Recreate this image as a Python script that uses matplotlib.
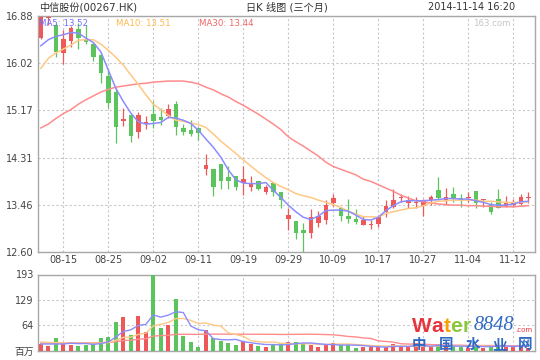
import matplotlib
matplotlib.use("Agg")
import matplotlib.pyplot as plt
import numpy as np

plt.rcParams["font.family"] = ["DejaVu Sans", "Noto Sans CJK SC"]

# trading days shown on the chart (2014)
dates = ["08-12", "08-13", "08-14", "08-15", "08-18", "08-19", "08-20", "08-21", "08-22", "08-25",
         "08-26", "08-27", "08-28", "08-29", "09-01", "09-02", "09-03", "09-04", "09-05", "09-08",
         "09-10", "09-11", "09-12", "09-15", "09-16", "09-17", "09-18", "09-19", "09-22", "09-23",
         "09-24", "09-25", "09-26", "09-29", "09-30", "10-03", "10-06", "10-07", "10-08", "10-09",
         "10-10", "10-13", "10-14", "10-15", "10-16", "10-17", "10-20", "10-21", "10-22", "10-23",
         "10-24", "10-27", "10-28", "10-29", "10-30", "10-31", "11-03", "11-04", "11-05", "11-06",
         "11-07", "11-10", "11-11", "11-12", "11-13", "11-14"]

opens = [16.48, 16.84, 16.72, 16.21, 16.43, 16.64, 16.46, 16.37, 16.17, 15.79,
         15.51, 14.97, 15.09, 14.78, 14.92, 15.10, 15.05, 15.07, 15.28, 14.85,
         14.81, 14.85, 14.11, 14.10, 14.20, 13.96, 13.98, 13.86, 13.78, 13.89,
         13.69, 13.86, 13.69, 13.20, 13.17, 13.00, 12.95, 13.12, 13.18, 13.49,
         13.39, 13.25, 13.20, 13.09, 13.09, 13.11, 13.33, 13.41, 13.58, 13.49,
         13.48, 13.44, 13.54, 13.72, 13.54, 13.65, 13.58, 13.58, 13.71, 13.54,
         13.45, 13.57, 13.42, 13.46, 13.47, 13.58]
highs = [16.88, 16.88, 16.75, 16.63, 16.69, 16.76, 16.72, 16.41, 16.21, 15.90,
         15.57, 15.22, 15.10, 15.14, 15.07, 15.34, 15.21, 15.28, 15.34, 14.92,
         14.99, 14.87, 14.38, 14.10, 14.20, 14.16, 13.98, 14.16, 13.98, 13.89,
         13.82, 13.86, 13.69, 13.39, 13.17, 13.12, 13.38, 13.34, 13.54, 13.65,
         13.39, 13.57, 13.38, 13.26, 13.18, 13.24, 13.54, 13.74, 13.65, 13.62,
         13.60, 13.57, 13.63, 13.96, 13.76, 13.77, 13.65, 13.69, 13.71, 13.57,
         13.50, 13.74, 13.62, 13.57, 13.65, 13.68]
lows = [16.46, 16.72, 16.13, 16.01, 16.32, 16.29, 16.38, 16.07, 15.66, 15.21,
        14.58, 14.89, 14.60, 14.66, 14.83, 14.84, 14.90, 15.03, 14.72, 14.72,
        14.70, 14.64, 14.00, 13.62, 13.74, 13.74, 13.72, 13.63, 13.71, 13.72,
        13.65, 13.62, 13.40, 13.00, 12.84, 12.60, 12.86, 13.06, 13.10, 13.44,
        13.17, 13.13, 13.10, 13.09, 13.01, 13.06, 13.24, 13.39, 13.50, 13.39,
        13.40, 13.25, 13.45, 13.57, 13.45, 13.51, 13.42, 13.51, 13.39, 13.42,
        13.29, 13.39, 13.41, 13.41, 13.45, 13.48]
closes = [16.87, 16.87, 16.23, 16.46, 16.66, 16.49, 16.41, 16.13, 15.84, 15.31,
          14.86, 15.01, 14.71, 15.09, 14.96, 14.98, 14.99, 15.19, 14.87, 14.78,
          14.74, 14.76, 14.18, 13.78, 13.89, 13.89, 13.77, 13.92, 13.86, 13.74,
          13.78, 13.69, 13.54, 13.27, 12.95, 12.95, 13.23, 13.25, 13.45, 13.58,
          13.26, 13.20, 13.15, 13.18, 13.10, 13.24, 13.44, 13.54, 13.60, 13.54,
          13.51, 13.52, 13.60, 13.58, 13.59, 13.56, 13.55, 13.59, 13.48, 13.56,
          13.33, 13.40, 13.51, 13.50, 13.59, 13.60]

ma5 = [16.34, 16.45, 16.51, 16.54, 16.58, 16.57, 16.48, 16.40, 16.23, 15.90,
       15.57, 15.33, 15.12, 14.96, 14.92, 14.93, 14.95, 15.04, 15.03, 14.99,
       14.93, 14.81, 14.65, 14.50, 14.32, 14.09, 13.91, 13.85, 13.84, 13.84,
       13.86, 13.72, 13.59, 13.45, 13.33, 13.23, 13.19, 13.25, 13.35, 13.36,
       13.36, 13.34, 13.27, 13.19, 13.18, 13.23, 13.35, 13.44, 13.51, 13.53,
       13.53, 13.53, 13.54, 13.55, 13.57, 13.57, 13.56, 13.56, 13.53, 13.50,
       13.46, 13.45, 13.45, 13.47, 13.51, 13.52]
ma10 = [15.93, 16.11, 16.21, 16.28, 16.35, 16.44, 16.45, 16.45, 16.37, 16.26,
        16.13, 15.99, 15.81, 15.64, 15.45, 15.28, 15.18, 15.08, 14.99, 14.97,
        14.94, 14.91, 14.86, 14.74, 14.61, 14.50, 14.39, 14.27, 14.16, 14.05,
        13.95, 13.86, 13.79, 13.73, 13.66, 13.62, 13.59, 13.54, 13.50, 13.46,
        13.41, 13.34, 13.29, 13.24, 13.24, 13.23, 13.30, 13.33, 13.36, 13.39,
        13.40, 13.44, 13.49, 13.52, 13.53, 13.54, 13.54, 13.54, 13.54, 13.52,
        13.52, 13.51, 13.50, 13.50, 13.50, 13.51]
ma30 = [14.85, 14.92, 15.02, 15.11, 15.18, 15.28, 15.36, 15.43, 15.50, 15.55,
        15.59, 15.61, 15.63, 15.65, 15.66, 15.68, 15.69, 15.70, 15.70, 15.70,
        15.68, 15.65, 15.59, 15.54, 15.47, 15.41, 15.33, 15.26, 15.18, 15.10,
        15.01, 14.92, 14.82, 14.69, 14.60, 14.52, 14.43, 14.34, 14.23, 14.15,
        14.10, 14.05, 14.00, 13.92, 13.88, 13.82, 13.76, 13.70, 13.63, 13.58,
        13.53, 13.51, 13.49, 13.47, 13.46, 13.45, 13.45, 13.44, 13.44, 13.43,
        13.43, 13.42, 13.42, 13.42, 13.43, 13.44]

# volume, millions of shares
volumes = [17, 11.9, 32, 19.5, 14.4, 11.9, 14.4, 18.7, 32, 34.7,
           72.7, 85.4, 39.8, 87.9, 47.4, 192.5, 57.5, 65.1, 131, 37.2,
           22, 9.4, 52.4, 32, 24.6, 19.5, 14.4, 24.6, 17.7, 11.9,
           9.4, 14.4, 19.5, 22.8, 22.8, 18.7, 14.4, 9.4, 14.4, 19.5,
           14.4, 14.4, 6.8, 10.1, 9.4, 9.4, 9.4, 17, 9.4, 9.4,
           19.5, 9, 10, 17, 9, 13, 9, 8, 15, 7,
           12, 15, 11, 9, 12, 8]
vma5 = [17, 17, 17, 17, 19, 17.9, 18.4, 15.8, 18.3, 22.3,
        34.5, 48.7, 52.9, 64.1, 66.6, 90.6, 85, 90.1, 98.7, 96.7,
        62.6, 52.9, 50.4, 30.6, 28.1, 27.6, 28.6, 23, 20.2, 17.6,
        15.6, 15.6, 14.6, 15.6, 17.8, 19.6, 19.6, 17.6, 15.9, 15.3,
        14.4, 14.4, 13.9, 13, 11, 10, 9, 11.1, 10.9, 10.9,
        12.9, 12.9, 11.5, 13, 12.9, 11.6, 11.6, 11.2, 10.8, 10.4,
        10.2, 11.4, 12, 10.8, 11.8, 11]
vma10 = [22, 21, 20.5, 20, 19.5, 19.5, 19.5, 19.5, 19.5, 20.7,
         26.2, 33.6, 34.4, 41.2, 44.5, 62.6, 66.9, 71.5, 81.4, 81.7,
         76.6, 69, 70.2, 64.7, 62.4, 45.1, 40.8, 36.7, 25.4, 22.9,
         21.6, 22.1, 18.8, 17.9, 17.7, 17.6, 17.6, 16.1, 15.8, 16.5,
         17, 17, 15.8, 14.5, 13.2, 12.2, 11.7, 12.5, 12, 11,
         11.5, 10.9, 11.3, 12, 11.9, 12.3, 12.2, 11.3, 11.9, 11.7,
         10.9, 11.5, 11.6, 10.8, 11.1, 10.6]
vma30 = [19.5, 19.5, 19.5, 19.5, 19.8, 20, 20, 20.2, 20.5, 21,
         23, 25.5, 26.5, 29, 30.5, 37, 38, 39, 41.5, 41.5,
         41.5, 41.3, 42, 42, 42, 41.8, 41.8, 41.8, 41.6, 41.7,
         41.5, 41.5, 41.1, 41.2, 41.5, 41.7, 41.7, 41.4, 40.9, 40.3,
         38.4, 36, 34.9, 32.3, 31.1, 25, 23.4, 21.8, 17.7, 16.8,
         16.7, 16.7, 15.3, 14.8, 14.3, 14, 13.9, 13.3, 13.2, 13.1,
         13.1, 13.2, 12.9, 12.4, 12.1, 11.7]

price_ticks = [12.60, 13.456, 14.312, 15.168, 16.024, 16.88]
price_labels = ["12.60", "13.46", "14.31", "15.17", "16.02", "16.88"]
vol_ticks = [0, 64.3, 128.7, 193]
vol_labels = ["百万", "64", "129", "193"]
date_ticks = [3, 9, 15, 21, 27, 33, 39, 45, 51, 57, 63]

RED = "#ee5858"
GREEN = "#5cc45c"
C5, C10, C30 = "#8c8cff", "#ffc885", "#ff8c8c"
GRID = "#c8c8c8"
SPINE = "#a8a8a8"
TXT = "#444444"

W, H = 540, 360


def box(x0, y0, x1, y1):
    return [x0 / W, 1 - y1 / H, (x1 - x0) / W, (y1 - y0) / H]


def px(x, y):
    return x / W, 1 - y / H


fig = plt.figure(figsize=(5.4, 3.6), dpi=100)
ax = fig.add_axes(box(38, 16, 535, 252))
axv = fig.add_axes(box(38, 274.5, 535, 350.7))

x = np.arange(len(dates))
o = np.array(opens)
c = np.array(closes)
colors = np.where(c >= o, RED, GREEN)

# candles
ax.vlines(x, lows, highs, colors=colors, lw=0.9, zorder=3)
ax.bar(x, np.maximum(np.abs(c - o), 0.02), bottom=np.minimum(o, c), width=0.6,
       color=colors, lw=0, zorder=3)
ax.plot(x, ma30, color=C30, lw=1.1, zorder=4)
ax.plot(x, ma10, color=C10, lw=1.1, zorder=4)
ax.plot(x, ma5, color=C5, lw=1.1, zorder=4)

# volume
axv.bar(x, volumes, width=0.58, color=colors, lw=0, zorder=3)
axv.plot(x, vma30, color=C30, lw=1.0, zorder=4)
axv.plot(x, vma10, color=C10, lw=1.0, zorder=4)
axv.plot(x, vma5, color=C5, lw=1.0, zorder=4)

for a in (ax, axv):
    a.set_xlim(-0.373, 65.89)
    a.set_xticks(date_ticks)
    a.grid(True, color=GRID, ls=(0, (2, 2)), lw=0.8, zorder=0)
    a.tick_params(length=0, labelsize=7, colors=TXT, pad=3)
    for s in a.spines.values():
        s.set_color(SPINE)
        s.set_linewidth(1)

ax.set_ylim(12.60, 16.88)
ax.set_yticks(price_ticks)
ax.set_yticklabels(price_labels)
ax.set_xticklabels([dates[i] for i in date_ticks])
ax.tick_params(axis="x", pad=2.5)

axv.set_ylim(0, 193)
axv.set_yticks(vol_ticks)
axv.set_yticklabels(vol_labels)
axv.set_xticklabels([])

# header
fig.text(*px(39, 7), "中信股份(00267.HK)", fontsize=7.3, color="#333333", va="center", ha="left")
fig.text(*px(287, 7), "日K 线图 (三个月)", fontsize=7.3, color="#333333", va="center", ha="center")
fig.text(*px(515, 7), "2014-11-14 16:20", fontsize=7, color="#333333", va="center", ha="right")

# MA legend inside the price panel
fig.text(*px(39, 23), "MA5: 13.52", fontsize=6.2, color="#7070ff", va="center")
fig.text(*px(116, 23), "MA10: 13.51", fontsize=6.2, color="#ffb84d", va="center")
fig.text(*px(199, 23), "MA30: 13.44", fontsize=6.2, color="#f06464", va="center")
fig.text(*px(511, 23), "163.com", fontsize=6.2, color="#c4c4c4", va="center", ha="right")

# watermark logo
logo = [("W", 411.5, "#e8343c"), ("a", 431, "#e8343c"), ("t", 443.5, "#f5a300"),
        ("e", 450.5, "#8cc63f"), ("r", 463, "#8cc63f")]
for ch, lx, col in logo:
    fig.text(*px(lx, 331.5), ch, fontsize=15, fontweight="bold", color=col,
             family="Liberation Sans", va="baseline", ha="left")
fig.text(*px(473.5, 329.5), "8848", fontsize=14.5, style="italic", color="#2f6bc4",
         family="Liberation Serif", va="baseline", ha="left")
fig.text(*px(515, 331.5), ".com", fontsize=5, color="#e8343c", va="baseline", ha="left")
for ch, lx in zip("中国水业网", [419, 446.5, 473.5, 500, 525.5]):
    fig.text(*px(lx, 344), ch, fontsize=10.5, fontweight="bold", color="#2f6bc4",
             va="center", ha="center", family=["Noto Sans CJK SC"])

fig.savefig("out.png", dpi=100)
